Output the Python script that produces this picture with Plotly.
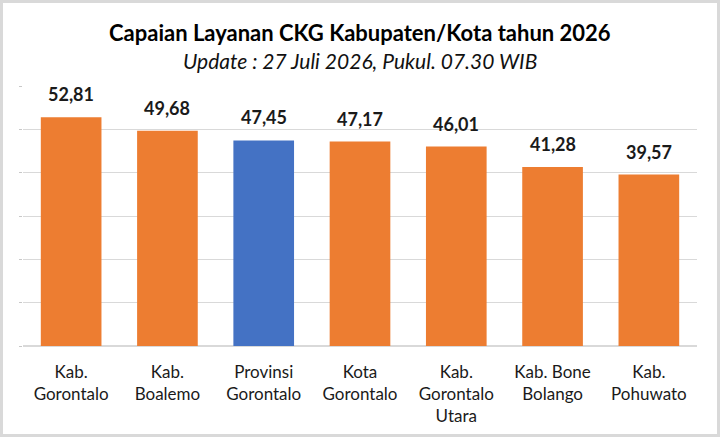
import plotly.graph_objects as go

categories = ["Kab.<br>Gorontalo", "Kab.<br>Boalemo", "Provinsi<br>Gorontalo", "Kota<br>Gorontalo",
              "Kab.<br>Gorontalo<br>Utara", "Kab. Bone<br>Bolango", "Kab.<br>Pohuwato"]
values = [52.81, 49.68, 47.45, 47.17, 46.01, 41.28, 39.57]
value_labels = ["52,81", "49,68", "47,45", "47,17", "46,01", "41,28", "39,57"]
is_province = [False, False, True, False, False, False, False]

title_text = "Capaian Layanan CKG Kabupaten/Kota tahun 2026"
subtitle_text = "Update : 27 Juli 2026, Pukul. 07.30 WIB"

ORANGE = "#ED7D31"
BLUE = "#4472C4"
colors = [BLUE if p else ORANGE for p in is_province]

W, H = 720, 437
ml, mr, mt, mb = 23, 23, 86, 91
pw, ph = W - ml - mr, H - mt - mb

def px_x(p):
    return (p - ml) / pw

def px_y(p):
    return (H - mb - p) / ph

fig = go.Figure(go.Bar(
    x=categories, y=values, marker=dict(color=colors, line=dict(width=0)),
    cliponaxis=False, hoverinfo="x+y",
))

annotations = [
    dict(text="<b>" + title_text + "</b>", xref="paper", yref="paper",
         x=px_x(360), y=px_y(32), xanchor="center", yanchor="middle", showarrow=False,
         font=dict(family="Lato", size=22, color="#000000")),
    dict(text="<i>" + subtitle_text + "</i>", xref="paper", yref="paper",
         x=px_x(360), y=px_y(61), xanchor="center", yanchor="middle", showarrow=False,
         font=dict(family="Lato", size=21, color="#111111")),
]
for cat, val, lab in zip(categories, values, value_labels):
    annotations.append(dict(
        x=cat, y=val, xref="x", yref="y", text="<b>" + lab + "</b>", showarrow=False,
        yanchor="bottom", yshift=10,
        font=dict(family="Lato", size=18, color="#1a1a1a"),
    ))

fig.update_layout(
    width=W, height=H, margin=dict(l=ml, r=mr, t=mt, b=mb),
    paper_bgcolor="#d9d9d9", plot_bgcolor="rgba(0,0,0,0)",
    bargap=0.37, showlegend=False,
    font=dict(family="Lato", color="#262626"),
    shapes=[dict(type="rect", xref="paper", yref="paper", layer="below",
                 x0=px_x(3), x1=px_x(717), y0=px_y(434), y1=px_y(3),
                 fillcolor="white", line=dict(width=0))],
    annotations=annotations,
)
fig.update_yaxes(range=[0, 60], dtick=10, showgrid=True, gridcolor="#d9d9d9", gridwidth=1,
                 zeroline=True, zerolinecolor="#d9d9d9", showticklabels=False,
                 ticks="outside", ticklen=3, tickcolor="#c8c8c8", showline=False)
fig.update_xaxes(showline=False, ticks="", ticklabelstandoff=14,
                 tickfont=dict(family="Lato", size=17, color="#1a1a1a"))

fig.write_html("out.html")
